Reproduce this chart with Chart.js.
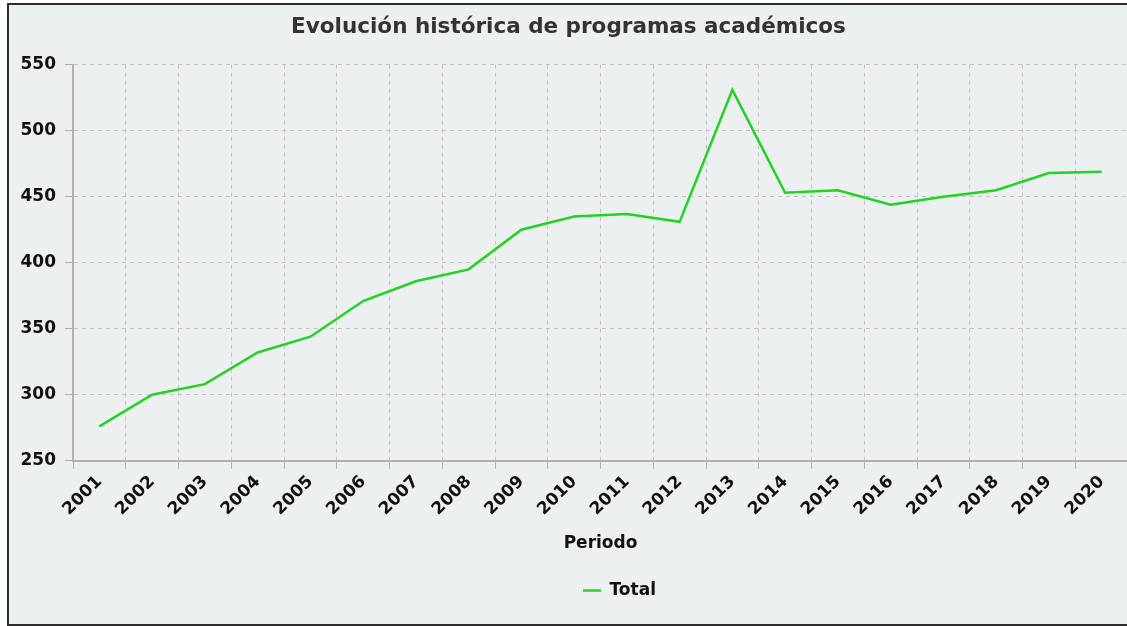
<!DOCTYPE html>
<html lang="es">
<head>
<meta charset="UTF-8">
<title>Evolución histórica de programas académicos</title>
<script src="https://cdn.jsdelivr.net/npm/chart.js"></script>
<style>
  html, body { margin: 0; padding: 0; background: #fff; overflow: hidden; }
  .chart-box {
    position: absolute; left: 7px; top: 3px;
    width: 1136px; height: 623px; box-sizing: border-box;
    border: 2px solid #2e2e2e; background: #ecf0f1;
  }
  .chart-box canvas { display: block; }
</style>
</head>
<body>
<div class="chart-box"><canvas id="myChart" width="1132" height="619"></canvas></div>
<script>
  // datos
  const periodos = ['2001', '2002', '2003', '2004', '2005', '2006', '2007', '2008', '2009', '2010',
                    '2011', '2012', '2013', '2014', '2015', '2016', '2017', '2018', '2019', '2020'];
  const totales = [276, 300, 308, 332, 344, 371, 386, 395, 425, 435,
                   437, 431, 531, 453, 455, 444, 450, 455, 468, 469];
  const yMin = 250, yMax = 550, yPaso = 50;

  const verde = '#22d322';
  const fuente = 'DejaVu Sans';

  // la leyenda del original no esta centrada en el lienzo
  const moverLeyenda = {
    id: 'moverLeyenda',
    afterLayout(chart) {
      chart.legend.left += 51;
      chart.legend.right += 51;
    }
  };

  var ctx = document.getElementById('myChart').getContext('2d');
  var myChart = new Chart(ctx, {
    type: 'line',
    data: {
      labels: periodos,
      datasets: [{
        label: 'Total',
        data: totales,
        fill: false,
        borderColor: verde,
        backgroundColor: verde,
        borderWidth: 2.5,
        pointRadius: 0,
        tension: 0
      }]
    },
    plugins: [moverLeyenda],
    options: {
      responsive: false,
      animation: false,
      layout: { padding: { top: 10, right: 13, bottom: 15, left: 0 } },
      plugins: {
        title: {
          display: true,
          text: 'Evolución histórica de programas académicos',
          color: '#333',
          font: { family: fuente, size: 21.5, weight: 'bold' },
          padding: { top: 0, bottom: 24 }
        },
        legend: {
          position: 'bottom',
          labels: {
            color: '#111',
            font: { family: fuente, size: 17, weight: 'bold' },
            usePointStyle: true,
            pointStyle: 'line',
            pointStyleWidth: 18
          }
        },
        tooltip: { enabled: false }
      },
      scales: {
        x: {
          offset: true,
          grid: { offset: true, color: '#c2c2c2', tickLength: 8, tickColor: '#b0b0b0', tickBorderDash: [] },
          border: { color: '#b0b0b0', width: 2, dash: [4, 4] },
          ticks: {
            color: '#111',
            font: { family: fuente, size: 17, weight: 'bold' },
            minRotation: 45,
            maxRotation: 45,
            autoSkip: false,
            padding: 3
          },
          title: {
            display: true,
            text: 'Periodo',
            color: '#111',
            font: { family: fuente, size: 17, weight: 'bold' },
            padding: { top: 11, bottom: 18 }
          }
        },
        y: {
          min: yMin,
          max: yMax,
          afterFit(scale) { scale.width = 64; },
          grid: { color: '#c2c2c2', tickLength: 8, tickColor: '#b0b0b0', tickBorderDash: [] },
          border: { color: '#b0b0b0', width: 2, dash: [4, 4] },
          ticks: {
            stepSize: yPaso,
            color: '#111',
            font: { family: fuente, size: 17, weight: 'bold' },
            padding: 9
          }
        }
      }
    }
  });
</script>
</body>
</html>
